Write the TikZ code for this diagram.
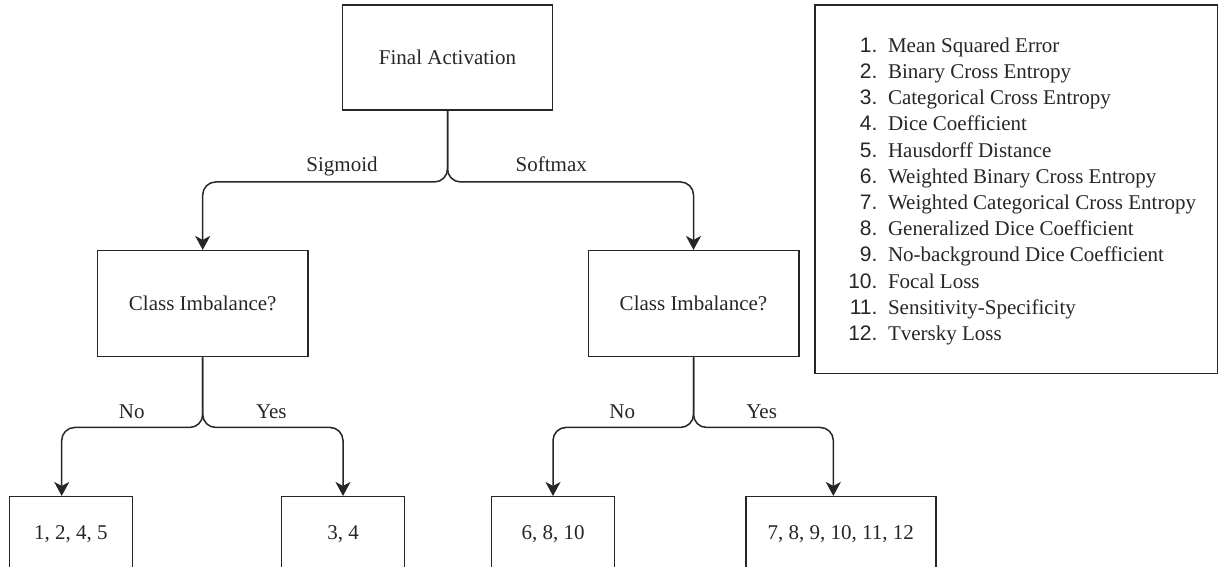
\documentclass[tikz,border=0pt]{standalone}
\usepackage{fontspec}
\setmainfont{Liberation Serif}
\newfontfamily\numfont{Liberation Sans}
\usetikzlibrary{arrows.meta}

\begin{document}
\begin{tikzpicture}[x=1pt, y=-1pt,
    every node/.style={font=\fontsize{21}{25}\selectfont, text=black!85},
    box/.style={draw=black!85, line width=1.5pt, inner sep=0pt, minimum height=106pt},
    leaf/.style={box, minimum height=74pt},
    flow/.style={draw=black!85, line width=1.5pt, rounded corners=13pt,
        -{Stealth[length=14pt,width=15pt,inset=4pt]}},
    lbl/.style={anchor=base},
    num/.style={anchor=base east, font=\numfont\fontsize{21}{25}\selectfont}]
    \useasboundingbox (0,0) rectangle (1221,567);
    % decision boxes
    \node[box, minimum width=210pt, minimum height=105pt] (act) at (447.5,57.5) {Final Activation};
    \node[box, minimum width=210.5pt] (imbl) at (202.7,303.7) {Class Imbalance?};
    \node[box, minimum width=210.5pt] (imbr) at (693.5,303.7) {Class Imbalance?};
    % result boxes
    \node[leaf, minimum width=123.4pt] (res1) at (71,533.7) {1, 2, 4, 5};
    \node[leaf, minimum width=122.6pt] (res2) at (343,533.7) {3, 4};
    \node[leaf, minimum width=122.6pt] (res3) at (553,533.7) {6, 8, 10};
    \node[leaf, minimum width=190pt] (res4) at (840.8,533.7) {7, 8, 9, 10, 11, 12};
    % arrows
    \draw[flow] (act.south) -- ++(0,71.2) -| (imbl.north);
    \draw[flow] (act.south) -- ++(0,71.2) -| (imbr.north);
    \draw[flow] (imbl.south) -- ++(0,70) -| ([xshift=-9.3pt]res1.north);
    \draw[flow] (imbl.south) -- ++(0,70) -| (res2.north);
    \draw[flow] (imbr.south) -- ++(0,70) -| (res3.north);
    \draw[flow] (imbr.south) -- ++(0,70) -| ([xshift=-7.5pt]res4.north);
    % edge labels
    \node[lbl] (sig) at (342,171.7) {Sigmoid};
    \node[lbl] (soft) at (551.3,171.7) {Softmax};
    \node[lbl] (nol) at (131.7,418.3) {No};
    \node[lbl] (yesl) at (271.3,418.3) {Yes};
    \node[lbl] (nor) at (622.2,418.3) {No};
    \node[lbl] (yesr) at (761.7,418.3) {Yes};
    % list of losses
    \node[box, minimum width=402.5pt, minimum height=368.3pt] (legend) at (1016.2,189.2) {};
    \foreach \i/\loss in {1/Mean Squared Error, 2/Binary Cross Entropy,
        3/Categorical Cross Entropy, 4/Dice Coefficient, 5/Hausdorff Distance,
        6/Weighted Binary Cross Entropy, 7/Weighted Categorical Cross Entropy,
        8/Generalized Dice Coefficient, 9/No-background Dice Coefficient,
        10/Focal Loss, 11/Sensitivity-Specificity, 12/Tversky Loss} {
        \node[num] (n\i) at (881,{52.3+26.2*(\i-1)}) {\i.};
        \node[anchor=base west] (l\i) at (884.5,{52.3+26.2*(\i-1)}) {\loss};
    }
\end{tikzpicture}
\end{document}
